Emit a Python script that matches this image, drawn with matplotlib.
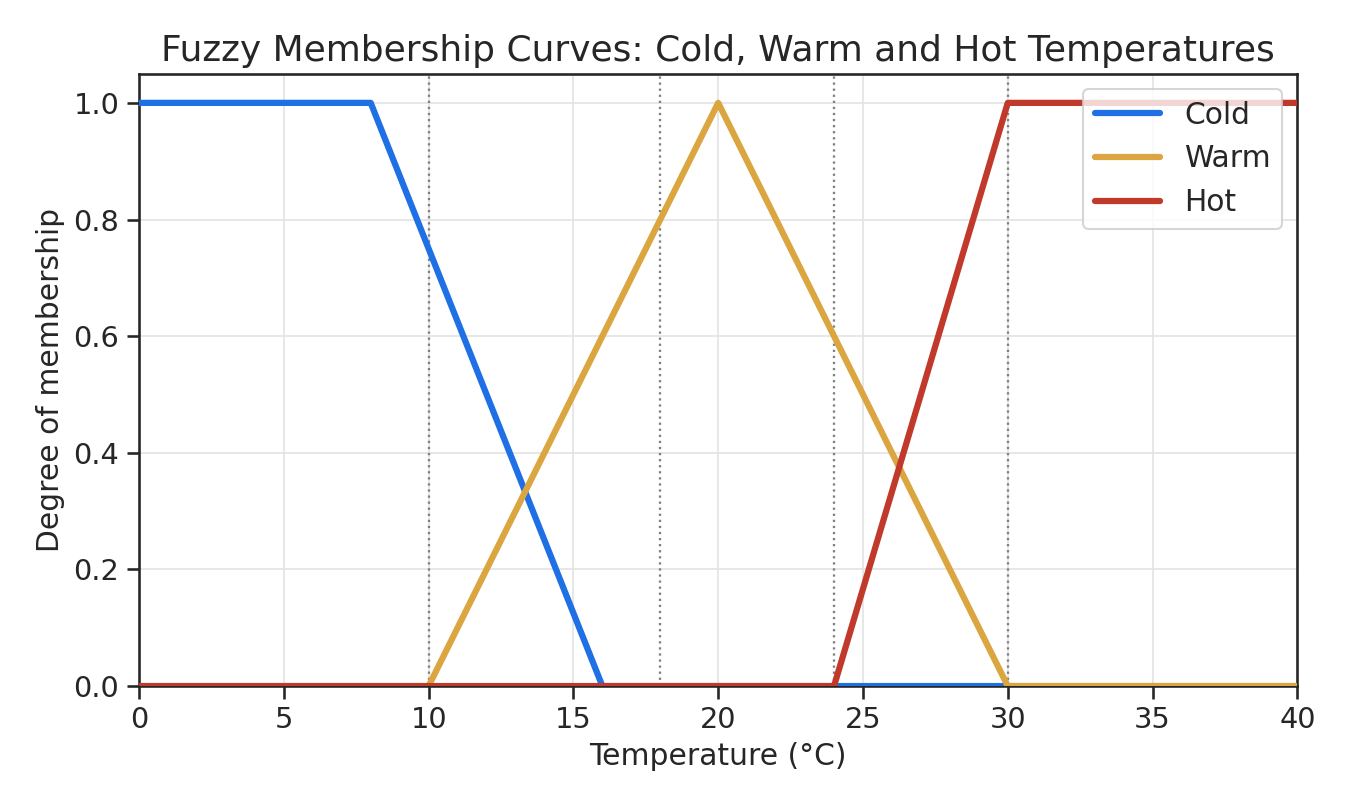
import matplotlib
matplotlib.use("Agg")
import matplotlib.pyplot as plt
import seaborn as sns
import numpy as np

# breakpoints of the three membership functions (°C, degree)
cold_x = [0, 8, 16, 40]
cold_y = [1, 1, 0, 0]
warm_x = [0, 10, 20, 30, 40]
warm_y = [0, 0, 1, 0, 0]
hot_x = [0, 24, 30, 40]
hot_y = [0, 0, 1, 1]
marks = [10, 18, 24, 30]

sns.set_theme(style="ticks")
plt.rcParams['font.family'] = ['DejaVu Sans']

fig, ax = plt.subplots(figsize=(9, 5.4), dpi=150)
fig.subplots_adjust(left=0.103, right=0.961, top=0.909, bottom=0.153)

ax.grid(True, color="#e3e3e3", linewidth=0.8)
ax.plot(cold_x, cold_y, color="#1f6fe5", lw=3, label="Cold", zorder=3)
ax.plot(warm_x, warm_y, color="#dba53f", lw=3, label="Warm", zorder=3)
ax.plot(hot_x, hot_y, color="#c0392b", lw=3, label="Hot", zorder=3)
for m in marks:
    ax.axvline(m, color="gray", linestyle=":", lw=1.1, zorder=2)

ax.set_xlim(0, 40)
ax.set_ylim(0, 1.05)
ax.set_xticks(np.arange(0, 41, 5))
ax.set_yticks(np.arange(0, 1.01, 0.2))
ax.tick_params(labelsize=13.8)
ax.set_xlabel("Temperature (°C)", fontsize=14.3)
ax.set_ylabel("Degree of membership", fontsize=14.3)
ax.set_title("Fuzzy Membership Curves: Cold, Warm and Hot Temperatures", fontsize=17.3)
ax.legend(loc="upper right", fontsize=14.3, handlelength=2.2)

fig.savefig("out.png")
